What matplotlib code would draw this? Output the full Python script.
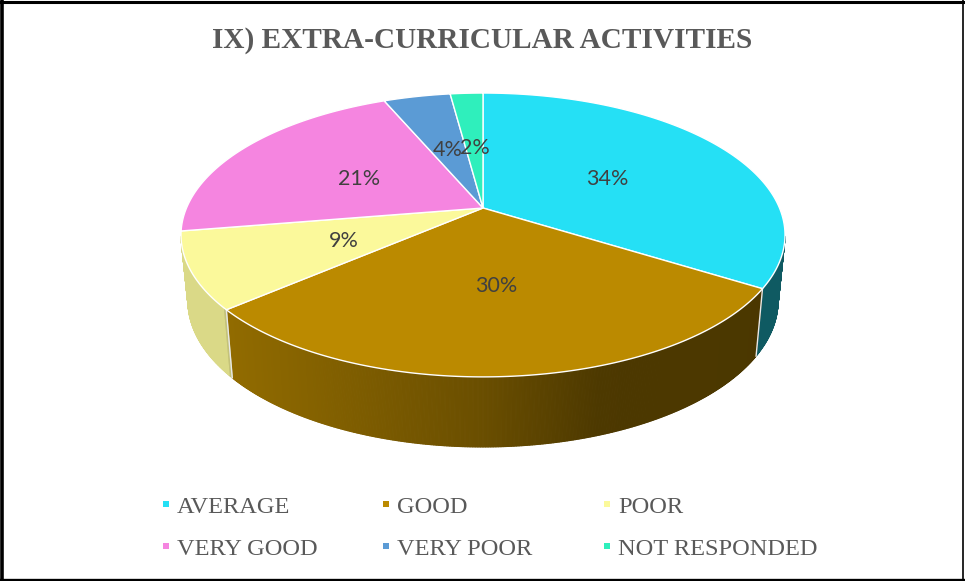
import numpy as np
import matplotlib
matplotlib.use("Agg")
import matplotlib.pyplot as plt
from matplotlib.patches import Polygon, Rectangle
from matplotlib.collections import PolyCollection

categories = ["AVERAGE", "GOOD", "POOR", "VERY GOOD", "VERY POOR", "NOT RESPONDED"]
values = [33.9, 29.8, 8.7, 21.2, 4.3, 2.1]
colors = ["#25E0F5", "#BB8A00", "#FBF99B", "#F585E0", "#5B9BD5", "#2FEFBC"]
title = "IX) EXTRA-CURRICULAR ACTIVITIES"

W, H = 965, 581
fig = plt.figure(figsize=(W / 100, H / 100), dpi=100)
ax = fig.add_axes([0, 0, 1, 1])
ax.set_xlim(0, W)
ax.set_ylim(H, 0)
ax.axis("off")

# perspective projection of a tilted disc
CX, CY, A, B, K = 483.0, 208.0, 296.5, 136.8, 0.19
def top(theta, r=1.0):
    u, v = r * np.sin(theta), r * np.cos(theta)
    d = 1 + K * v
    return CX + A * u / d, CY - B * v / d
def low(theta):
    u, v = np.sin(theta), np.cos(theta)
    d = 1 + K * v
    return CX + 0.977 * A * u / d, CY + 65 - 1.03 * B * v / d

def shade(x):
    x = np.asarray(x)
    return np.where(x < 226.5, 0.87,
                    np.interp(x, [226.5, 300, 480, 600, 790], [0.78, 0.72, 0.57, 0.41, 0.40]))

frac = np.cumsum([0] + values) / sum(values)
starts, ends = 2 * np.pi * frac[:-1], 2 * np.pi * frac[1:]
WALL_MIN, WALL_MAX = np.radians(101.5), np.radians(258.5)

# side walls (front part of the rim only)
for s, e, c in zip(starts, ends, colors):
    s2, e2 = max(s, WALL_MIN), min(e, WALL_MAX)
    if e2 <= s2:
        continue
    th = np.linspace(s2, e2, max(int((e2 - s2) * 220), 2))
    tx, ty = top(th)
    lx, ly = low(th)
    quads = [[(tx[i], ty[i]), (tx[i + 1], ty[i + 1]), (lx[i + 1], ly[i + 1]), (lx[i], ly[i])]
             for i in range(len(th) - 1)]
    base = np.array(matplotlib.colors.to_rgb(c))
    fc = [np.clip(base * shade((tx[i] + lx[i]) / 2), 0, 1) for i in range(len(th) - 1)]
    ax.add_collection(PolyCollection(quads, facecolors=fc, edgecolors=fc, linewidths=0.8, zorder=2))

# wall seams
for t in ends[:2]:
    x0, y0 = top(t)
    x1, y1 = low(t)
    ax.plot([x0, x1], [y0, y1], color="#E8E8E8", lw=1.0, zorder=3)

# top face
for s, e, c in zip(starts, ends, colors):
    th = np.linspace(s, e, 200)
    x, y = top(th)
    pts = np.column_stack([np.r_[CX, x], np.r_[CY, y]])
    ax.add_patch(Polygon(pts, closed=True, facecolor=c, edgecolor="white", lw=1.0, zorder=4))

# value labels
for s, e, v in zip(starts, ends, values):
    x, y = top((s + e) / 2, 0.5)
    ax.text(x + 0.5, y + 2.5, f"{round(v)}%", ha="center", va="center", fontsize=15.5,
            family="Lato", color="#404040", zorder=6)

ax.text(482, 40, title, ha="center", va="center", fontsize=21.1, fontweight="bold",
        family="Liberation Serif", color="#595959")

# legend
col_x = [166, 386, 607]
row_y = [504, 546]
for i, (name, c) in enumerate(zip(categories, colors)):
    mx, my = col_x[i % 3], row_y[i // 3]
    ax.add_patch(Rectangle((mx - 3.2, my - 3.2), 6.4, 6.4, facecolor=c, edgecolor="none"))
    ax.text(mx + 11, my + 9, name, ha="left", va="baseline", fontsize=17.6,
            family="Liberation Serif", color="#595959")

# outer frame
ax.plot([1.5, 1.5], [0, H], color="black", lw=2.6, zorder=10)
ax.plot([0, W], [2, 2], color="black", lw=2.2, zorder=10)
ax.plot([0, W], [579.5, 579.5], color="black", lw=2.4, zorder=10)
ax.plot([963, 963], [0, H], color="black", lw=1.2, zorder=10)

fig.savefig("out.png", dpi=100)
